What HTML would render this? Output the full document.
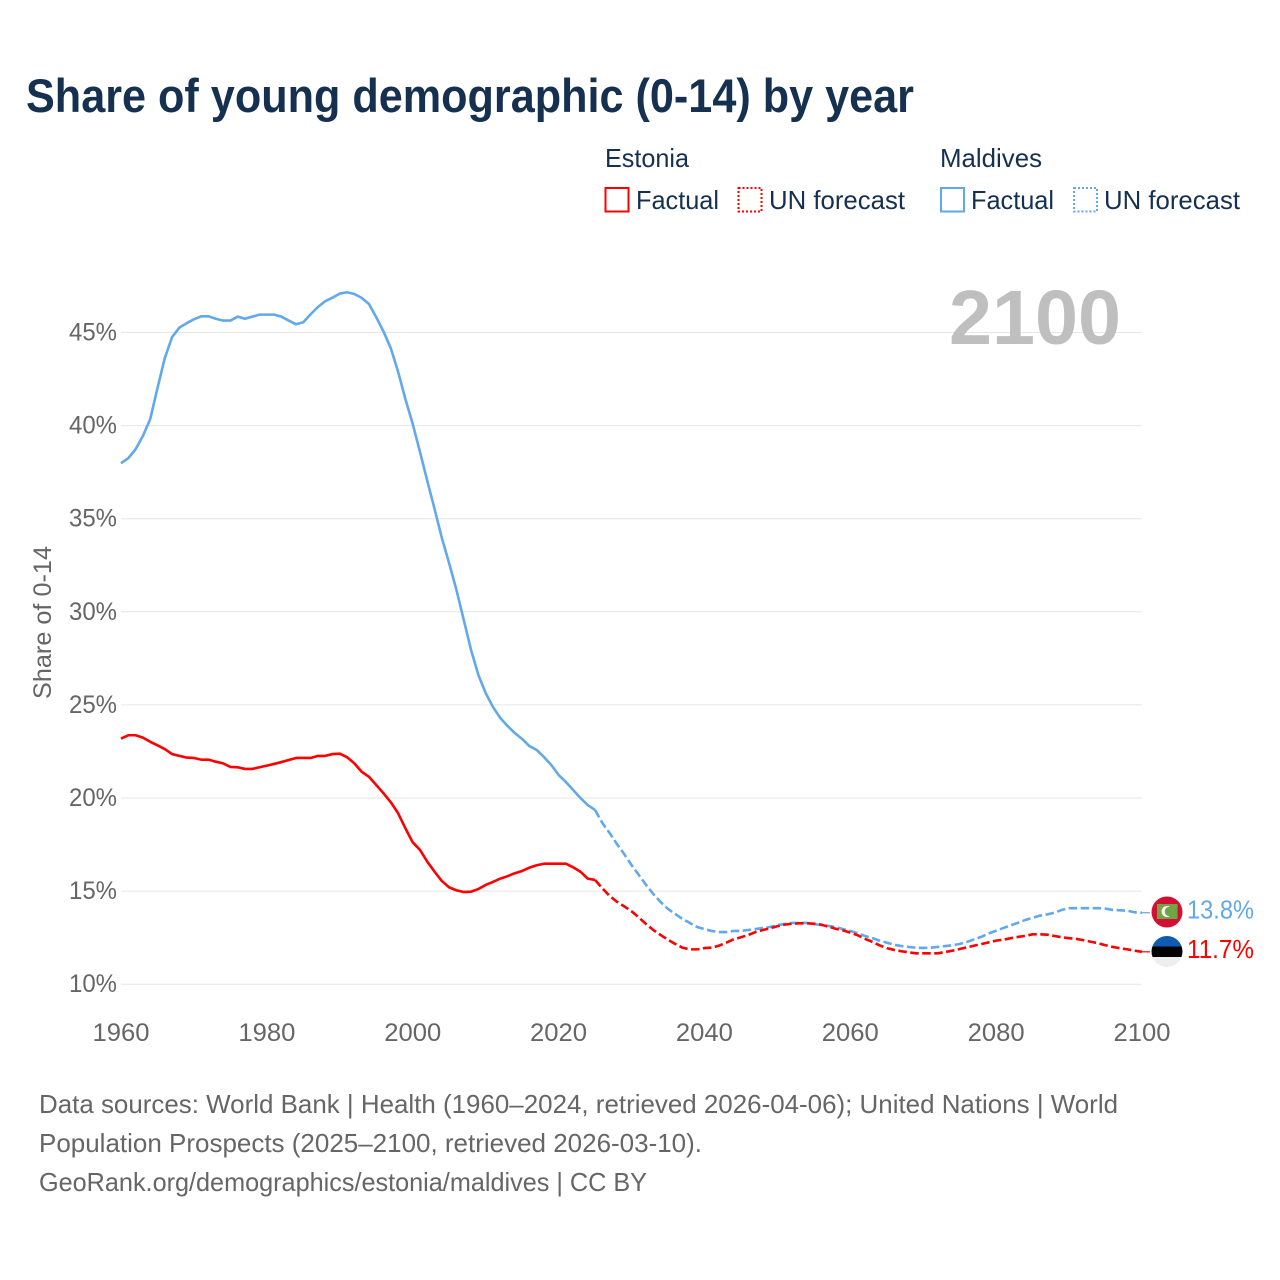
<!DOCTYPE html>
<html lang="en">
<head>
<meta charset="utf-8">
<title>Share of young demographic (0-14) by year</title>
<style>
html,body{margin:0;padding:0;background:#fff;}
svg{display:block;font-family:"Liberation Sans",sans-serif;}
</style>
</head>
<body>
<svg id="chart" xmlns="http://www.w3.org/2000/svg" width="1280" height="1280" viewBox="0 0 1280 1280">
  <rect x="0" y="0" width="1280" height="1280" fill="#ffffff"/>
  <text x="26" y="112" font-size="47" font-weight="700" fill="#16304f" textLength="888" lengthAdjust="spacingAndGlyphs">Share of young demographic (0-14) by year</text>

  <g font-size="26" fill="#16304f">
    <text x="605" y="167" textLength="84" lengthAdjust="spacingAndGlyphs">Estonia</text>
    <rect x="605.5" y="188" width="23" height="23.5" fill="none" stroke="#ff0000" stroke-width="2"/>
    <text x="636" y="209" textLength="83" lengthAdjust="spacingAndGlyphs">Factual</text>
    <rect x="738.5" y="188" width="23" height="23.5" fill="none" stroke="#ff0000" stroke-width="2" stroke-dasharray="2 2"/>
    <text x="769" y="209" textLength="136" lengthAdjust="spacingAndGlyphs">UN forecast</text>
    <text x="940" y="167" textLength="102" lengthAdjust="spacingAndGlyphs">Maldives</text>
    <rect x="941" y="188" width="23" height="23.5" fill="none" stroke="#62a8ec" stroke-width="2"/>
    <text x="971" y="209" textLength="83" lengthAdjust="spacingAndGlyphs">Factual</text>
    <rect x="1074" y="188" width="23" height="23.5" fill="none" stroke="#62a8ec" stroke-width="2" stroke-dasharray="2 2"/>
    <text x="1104" y="209" textLength="136" lengthAdjust="spacingAndGlyphs">UN forecast</text>
  </g>

  <g id="grid"></g>
  <text x="949" y="344" font-size="77" font-weight="700" fill="#bfbfbf" textLength="172" lengthAdjust="spacingAndGlyphs">2100</text>
  <g id="yticks" font-size="25" fill="#666666"></g>
  <g id="xticks" font-size="25" fill="#666666"></g>
  <text transform="translate(51 622.5) rotate(-90)" text-anchor="middle" font-size="25" fill="#666666" textLength="153" lengthAdjust="spacingAndGlyphs">Share of 0-14</text>
  <g id="series"></g>

  <g>
    <circle cx="1167" cy="912" r="15.5" fill="#d21034"/>
    <rect x="1157" y="904" width="20.5" height="15" fill="#6fa544"/>
    <circle cx="1167" cy="911.5" r="5.5" fill="#ffffff"/>
    <circle cx="1169.5" cy="911.5" r="4.8" fill="#6fa544"/>
  </g>
  <g>
    <clipPath id="estonia-clip"><circle cx="1167" cy="951.5" r="15.5"/></clipPath>
    <g clip-path="url(#estonia-clip)">
      <rect x="1151" y="936" width="32" height="10.5" fill="#0f5cb5"/>
      <rect x="1151" y="946.5" width="32" height="10.5" fill="#000000"/>
      <rect x="1151" y="957" width="32" height="10.5" fill="#eeeeee"/>
    </g>
  </g>
  <g id="endlabels" font-size="26"></g>

  <g font-size="26" fill="#666666">
    <text x="39" y="1113" textLength="1079" lengthAdjust="spacingAndGlyphs">Data sources: World Bank | Health (1960–2024, retrieved 2026-04-06); United Nations | World</text>
    <text x="39" y="1152" textLength="663" lengthAdjust="spacingAndGlyphs">Population Prospects (2025–2100, retrieved 2026-03-10).</text>
    <text x="39" y="1191" textLength="608" lengthAdjust="spacingAndGlyphs">GeoRank.org/demographics/estonia/maldives | CC BY</text>
  </g>
</svg>
<script>
const factualStartYear = 1960;
const forecastStartYear = 2025;
const xTickYears = [1960, 1980, 2000, 2020, 2040, 2060, 2080, 2100];
const yTickValues = [10, 15, 20, 25, 30, 35, 40, 45];

const maldivesFactual = [
  37.98,38.25,38.73,39.44,40.34,42.01,43.62,44.75,45.26,45.50,
  45.71,45.87,45.87,45.74,45.64,45.64,45.85,45.74,45.85,45.96,
  45.96,45.96,45.85,45.64,45.44,45.55,45.98,46.37,46.68,46.87,
  47.09,47.16,47.07,46.86,46.53,45.82,45.05,44.15,42.89,41.42,
  40.09,38.58,37.03,35.52,33.96,32.60,31.17,29.56,27.95,26.61,
  25.64,24.89,24.30,23.87,23.49,23.17,22.79,22.58,22.20,21.77,
  21.24,20.86,20.43,20.00,19.62,19.36
];
const maldivesForecast = [
  19.36,18.66,18.12,17.53,16.99,
  16.40,15.87,15.33,14.84,14.41,14.04,13.77,13.50,13.29,13.07,
  12.96,12.86,12.80,12.80,12.86,12.86,12.91,12.96,13.02,13.07,
  13.18,13.23,13.29,13.29,13.29,13.23,13.18,13.13,13.07,12.96,
  12.86,12.75,12.59,12.48,12.34,12.23,12.12,12.05,12.00,11.96,
  11.95,11.96,12.00,12.05,12.09,12.16,12.27,12.41,12.55,12.73,
  12.87,13.02,13.16,13.30,13.45,13.57,13.68,13.75,13.84,13.99,
  14.08,14.08,14.08,14.08,14.08,14.06,13.99,13.97,13.95,13.86,
  13.84
];
const estoniaFactual = [
  23.19,23.37,23.37,23.24,23.02,22.83,22.63,22.36,22.26,22.17,
  22.15,22.06,22.06,21.95,21.86,21.67,21.65,21.56,21.56,21.65,
  21.74,21.83,21.93,22.04,22.15,22.15,22.15,22.26,22.26,22.36,
  22.38,22.19,21.86,21.41,21.14,20.70,20.25,19.77,19.18,18.37,
  17.62,17.21,16.58,16.04,15.54,15.20,15.04,14.95,14.97,15.11,
  15.33,15.49,15.67,15.80,15.96,16.08,16.26,16.39,16.47,16.47,
  16.47,16.47,16.28,16.04,15.67,15.60
];
const estoniaForecast = [
  15.60,15.15,14.74,14.43,14.18,
  13.92,13.59,13.23,12.91,12.64,12.39,12.16,11.96,11.87,11.87,
  11.94,11.96,12.07,12.23,12.41,12.52,12.64,12.80,12.91,13.00,
  13.11,13.20,13.25,13.27,13.27,13.25,13.20,13.09,12.98,12.89,
  12.77,12.63,12.44,12.28,12.09,11.94,11.84,11.77,11.71,11.66,
  11.66,11.66,11.66,11.73,11.80,11.89,11.98,12.07,12.16,12.25,
  12.34,12.39,12.47,12.54,12.60,12.68,12.68,12.66,12.59,12.52,
  12.47,12.43,12.36,12.28,12.20,12.09,12.00,11.93,11.87,11.80,
  11.74
];
const endLabelTexts = ["13.8%", "11.7%"];

const SVGNS = "http://www.w3.org/2000/svg";
const COLOR_RED = "#ff0000";
const COLOR_BLUE = "#62a8ec";
function xScale(year) { return 121 + (year - 1960) * (1142 - 121) / 140; }
function yScale(value) { return 984.2 - (value - 10) * 18.62; }
function make(tag, attrs, parent) {
  const el = document.createElementNS(SVGNS, tag);
  for (const k in attrs) el.setAttribute(k, attrs[k]);
  parent.appendChild(el);
  return el;
}
function pointsFor(values, startYear) {
  return values.map(function (v, i) {
    return xScale(startYear + i).toFixed(2) + "," + yScale(v).toFixed(2);
  }).join(" ");
}

const gridGroup = document.getElementById("grid");
const yTickGroup = document.getElementById("yticks");
yTickValues.forEach(function (v) {
  const line = make("line", {x1: 121, x2: 1142, y1: yScale(v), y2: yScale(v), stroke: "#e6e6e6", "stroke-width": 1}, gridGroup);
  
  
  const label = make("text", {x: 69, y: yScale(v) + 8, textLength: 48, lengthAdjust: "spacingAndGlyphs"}, yTickGroup);
  label.textContent = v + "%";
  
  
});

const xTickGroup = document.getElementById("xticks");
xTickYears.forEach(function (yr) {
  const label = make("text", {x: xScale(yr) - 28.5, y: 1041, textLength: 57, lengthAdjust: "spacingAndGlyphs"}, xTickGroup);
  label.textContent = String(yr);
  
  
});

const seriesGroup = document.getElementById("series");
function drawSeries(values, startYear, color, dashed, name) {
  const attrs = {points: pointsFor(values, startYear), fill: "none", stroke: color, "stroke-width": 2.6, "stroke-linejoin": "round"};
  if (dashed) attrs["stroke-dasharray"] = "8.5 3.5";
  const line = make("polyline", attrs, seriesGroup);
  
  
}
drawSeries(maldivesFactual, factualStartYear, COLOR_BLUE, false, "line-maldives-factual");
drawSeries(maldivesForecast, forecastStartYear, COLOR_BLUE, true, "line-maldives-forecast");
drawSeries(estoniaFactual, factualStartYear, COLOR_RED, false, "line-estonia-factual");
drawSeries(estoniaForecast, forecastStartYear, COLOR_RED, true, "line-estonia-forecast");

function drawEnd(values, color, text, connectorName, labelName) {
  const yEnd = yScale(values[values.length - 1]);
  const connector = make("line", {x1: 1142, x2: 1150, y1: yEnd, y2: yEnd, stroke: color, "stroke-width": 1.2}, seriesGroup);
  
  
  const label = make("text", {x: 1187, y: yEnd + 6, fill: color, textLength: 67, lengthAdjust: "spacingAndGlyphs"}, document.getElementById("endlabels"));
  label.textContent = text;
  
  
}
drawEnd(maldivesForecast, COLOR_BLUE, endLabelTexts[0], "end-connector-maldives", "end-label-maldives");
drawEnd(estoniaForecast, COLOR_RED, endLabelTexts[1], "end-connector-estonia", "end-label-estonia");
</script>
</body>
</html>
